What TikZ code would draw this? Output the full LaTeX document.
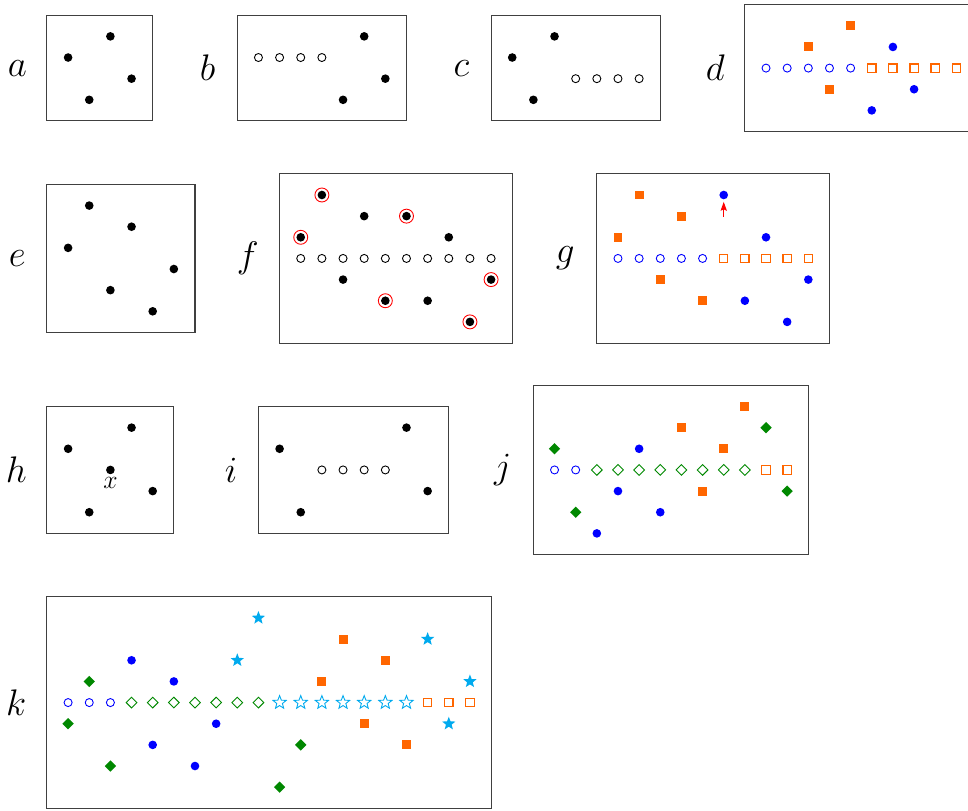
\documentclass[tikz,border=0pt]{standalone}
\usepackage{tikz}
\usetikzlibrary{arrows.meta}
\definecolor{ptblue}{RGB}{0,0,255}
\definecolor{ptorange}{RGB}{255,102,0}
\definecolor{ptgreen}{RGB}{0,136,0}
\definecolor{ptcyan}{RGB}{0,170,238}
\definecolor{ptred}{RGB}{255,0,0}
\definecolor{ptgray}{RGB}{64,64,64}

\tikzset{
  panel/.style={draw=ptgray, line width=0.7pt},
  lbl/.style={font=\fontsize{24}{28}\selectfont},
  hollow/.style={draw=#1, line width=0.6pt},
  ring/.style={draw=ptred, line width=0.6pt},
}

\begin{document}
\begin{tikzpicture}[x=0.5cm,y=-0.5cm]
  \useasboundingbox (-0.22,-0.22) rectangle (45.55,38.08);
  %
  % Panel a
  \begin{scope}[shift={(2,0.5)}]
    \draw[panel] (0,0) rectangle (5,5);
    \node[lbl] (la) at (-1.4,2.5) {$a$};
    \foreach \x/\y in {3/1,1/2,4/3,2/4} {
      \fill (\x,\y) circle (2.9pt);
    }
  \end{scope}
  %
  % Panel b
  \begin{scope}[shift={(11,0.5)}]
    \draw[panel] (0,0) rectangle (8,5);
    \node[lbl] (lb) at (-1.4,2.5) {$b$};
    \foreach \x in {1,...,4} \draw[hollow=black] (\x,2) circle (2.7pt);
    \foreach \x/\y in {6/1,7/3,5/4} {
      \fill (\x,\y) circle (2.9pt);
    }
  \end{scope}
  %
  % Panel c
  \begin{scope}[shift={(23,0.5)}]
    \draw[panel] (0,0) rectangle (8,5);
    \node[lbl] (lc) at (-1.4,2.5) {$c$};
    \foreach \x/\y in {3/1,1/2,2/4} {
      \fill (\x,\y) circle (2.9pt);
    }
    \foreach \x in {4,...,7} \draw[hollow=black] (\x,3) circle (2.7pt);
  \end{scope}
  %
  % Panel d (runs past the right edge)
  \begin{scope}[shift={(35,0)}]
    \draw[panel] (0,0) rectangle (11,6);
    \node[lbl] (ld) at (-1.4,3) {$d$};
    \foreach \x in {1,...,5} \draw[hollow=ptblue] (\x,3) circle (2.7pt);
    \foreach \x in {6,...,10} \draw[hollow=ptorange, line width=0.8pt] (\x,3) +(-2.8pt,-2.8pt) rectangle +(2.8pt,2.8pt);
    \foreach \x/\y in {5/1,3/2,4/4} {
      \fill[ptorange] (\x,\y) +(-3pt,-3pt) rectangle +(3pt,3pt);
    }
    \foreach \x/\y in {7/2,8/4,6/5} {
      \fill[ptblue] (\x,\y) circle (2.9pt);
    }
  \end{scope}
  %
  % Panel e
  \begin{scope}[shift={(2,8.5)}]
    \draw[panel] (0,0) rectangle (7,7);
    \node[lbl] (le) at (-1.4,3.5) {$e$};
    \foreach \x/\y in {2/1,4/2,1/3,6/4,3/5,5/6} {
      \fill (\x,\y) circle (2.9pt);
    }
  \end{scope}
  %
  % Panel f: ringed points
  \begin{scope}[shift={(13,8)}]
    \draw[panel] (0,0) rectangle (11,8);
    \node[lbl] (lf) at (-1.5,4) {$f$};
    \foreach \x in {1,...,10} \draw[hollow=black] (\x,4) circle (2.7pt);
    \foreach \x/\y in {2/1,4/2,6/2,1/3,8/3,3/5,10/5,5/6,7/6,9/7} {
      \fill (\x,\y) circle (2.9pt);
    }
    \foreach \x/\y in {2/1,6/2,1/3,10/5,5/6,9/7} {
      \draw[ring] (\x,\y) circle (4.7pt);
    }
  \end{scope}
  %
  % Panel g
  \begin{scope}[shift={(28,8)}]
    \draw[panel] (0,0) rectangle (11,8);
    \node[lbl] (lg) at (-1.5,4) {$g$};
    \foreach \x in {1,...,5} \draw[hollow=ptblue] (\x,4) circle (2.7pt);
    \foreach \x in {6,...,10} \draw[hollow=ptorange, line width=0.8pt] (\x,4) +(-2.8pt,-2.8pt) rectangle +(2.8pt,2.8pt);
    \foreach \x/\y in {2/1,4/2,1/3,3/5,5/6} {
      \fill[ptorange] (\x,\y) +(-3pt,-3pt) rectangle +(3pt,3pt);
    }
    \foreach \x/\y in {6/1,8/3,10/5,7/6,9/7} {
      \fill[ptblue] (\x,\y) circle (2.9pt);
    }
    % arrow up to the top dot
    \coordinate (gdot) at (6,1);
    \coordinate (gtail) at (6,2.02);
    \draw[ptred, line width=0.7pt, shorten >=4.6pt, -{Stealth[length=6pt,width=4.2pt,inset=1pt]}] (gtail) -- (gdot);
  \end{scope}
  %
  % Panel h
  \begin{scope}[shift={(2,19)}]
    \draw[panel] (0,0) rectangle (6,6);
    \node[lbl] (lh) at (-1.45,3) {$h$};
    \foreach \x/\y in {4/1,1/2,3/3,5/4,2/5} {
      \fill (\x,\y) circle (2.9pt);
    }
    \node[font=\fontsize{16}{19}\selectfont] (hx) at (3,3.62) {$x$};
  \end{scope}
  %
  % Panel i
  \begin{scope}[shift={(12,19)}]
    \draw[panel] (0,0) rectangle (9,6);
    \node[lbl] (li) at (-1.3,3) {$i$};
    \foreach \x/\y in {7/1,1/2,8/4,2/5} {
      \fill (\x,\y) circle (2.9pt);
    }
    \foreach \x in {3,...,6} \draw[hollow=black] (\x,3) circle (2.7pt);
  \end{scope}
  %
  % Panel j
  \begin{scope}[shift={(25,18)}]
    \draw[panel] (0,0) rectangle (13,8);
    \node[lbl] (lj) at (-1.45,4) {$j$};
    \foreach \x in {1,2} \draw[hollow=ptblue] (\x,4) circle (2.7pt);
    \foreach \x in {3,...,10} \draw[hollow=ptgreen] (\x,4) +(0pt,3.6pt) -- +(3.6pt,0pt) -- +(0pt,-3.6pt) -- +(-3.6pt,0pt) -- cycle;
    \foreach \x in {11,12} \draw[hollow=ptorange, line width=0.8pt] (\x,4) +(-2.8pt,-2.8pt) rectangle +(2.8pt,2.8pt);
    \foreach \x/\y in {10/1,7/2,9/3,8/5} {
      \fill[ptorange] (\x,\y) +(-3pt,-3pt) rectangle +(3pt,3pt);
    }
    \foreach \x/\y in {11/2,1/3,12/5,2/6} {
      \fill[ptgreen] (\x,\y) +(0pt,3.8pt) -- +(3.8pt,0pt) -- +(0pt,-3.8pt) -- +(-3.8pt,0pt) -- cycle;
    }
    \foreach \x/\y in {5/3,4/5,6/6,3/7} {
      \fill[ptblue] (\x,\y) circle (2.9pt);
    }
  \end{scope}
  %
  % Panel k
  \begin{scope}[shift={(2,28)}]
    \draw[panel] (0,0) rectangle (21,10);
    \node[lbl] (lk) at (-1.45,5) {$k$};
    \foreach \x in {1,...,3} \draw[hollow=ptblue] (\x,5) circle (2.7pt);
    \foreach \x in {4,...,10} \draw[hollow=ptgreen] (\x,5) +(0pt,3.6pt) -- +(3.6pt,0pt) -- +(0pt,-3.6pt) -- +(-3.6pt,0pt) -- cycle;
    \foreach \x in {11,...,17} {
      \draw[hollow=ptcyan, shift={(\x,5)}] (90:4.7pt) \foreach \a in {1,...,9} {-- ({90+36*\a}:{4.7pt-2.7pt*mod(\a,2)})} -- cycle;
    }
    \foreach \x in {18,...,20} \draw[hollow=ptorange, line width=0.8pt] (\x,5) +(-2.8pt,-2.8pt) rectangle +(2.8pt,2.8pt);
    \foreach \x/\y in {10/1,18/2,9/3,20/4,19/6} {
      \fill[ptcyan, shift={(\x,\y)}] (90:4.7pt) \foreach \a in {1,...,9} {-- ({90+36*\a}:{4.7pt-2.7pt*mod(\a,2)})} -- cycle;
    }
    \foreach \x/\y in {14/2,16/3,13/4,15/6,17/7} {
      \fill[ptorange] (\x,\y) +(-3pt,-3pt) rectangle +(3pt,3pt);
    }
    \foreach \x/\y in {4/3,6/4,8/6,5/7,7/8} {
      \fill[ptblue] (\x,\y) circle (2.9pt);
    }
    \foreach \x/\y in {2/4,1/6,12/7,3/8,11/9} {
      \fill[ptgreen] (\x,\y) +(0pt,3.8pt) -- +(3.8pt,0pt) -- +(0pt,-3.8pt) -- +(-3.8pt,0pt) -- cycle;
    }
  \end{scope}
\end{tikzpicture}
\end{document}
